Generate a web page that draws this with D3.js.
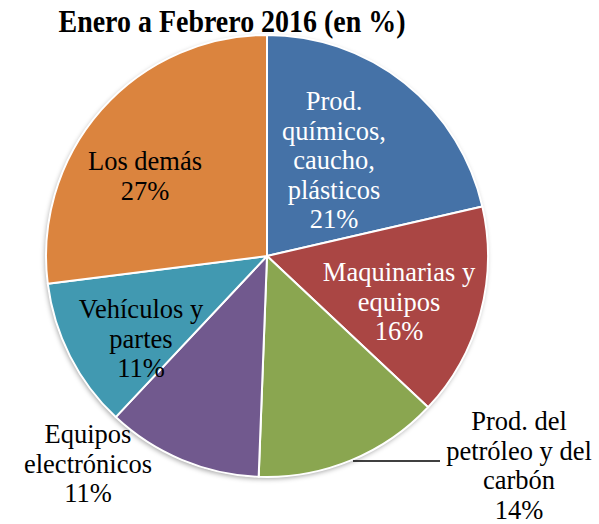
<!DOCTYPE html>
<html>
<head>
<meta charset="utf-8">
<script src="https://cdn.jsdelivr.net/npm/d3@7"></script>
<style>
  html, body { margin: 0; padding: 0; background: #fff; }
  svg { display: block; }
</style>
</head>
<body>
<svg id="chart" width="599" height="524"></svg>
<script>
// ---- data ----
const title = "Enero a Febrero 2016 (en %)";
const categories = [
  "Prod. químicos, caucho, plásticos",
  "Maquinarias y equipos",
  "Prod. del petróleo y del carbón",
  "Equipos electrónicos",
  "Vehículos y partes",
  "Los demás"
];
const values = [21.4, 15.6, 13.6, 11.4, 11.0, 27.0];
const labelLines = [
  ["Prod.", "químicos,", "caucho,", "plásticos"],
  ["Maquinarias y", "equipos"],
  ["Prod. del", "petróleo y del", "carbón"],
  ["Equipos", "electrónicos"],
  ["Vehículos y", "partes"],
  ["Los demás"]
];
const colors = ["#4572A7", "#AA4644", "#8AA650", "#71598E", "#4199B1", "#DB843E"];
const labelColors = ["#fff", "#fff", "#000", "#000", "#000", "#000"];

// ---- layout ----
const W = 599, H = 524;
const cx = 267, cy = 256, R = 221;
const fontFamily = "'Liberation Serif', 'Times New Roman', serif";
const lineH = 29.5;

// label anchor positions (center x, first baseline y)
const labelPos = [
  [334, 110],
  [399, 281],
  [519, 430],
  [88, 443],
  [141, 318],
  [145, 170]
];

const svg = d3.select("#chart");

const defs = svg.append("defs");
const f = defs.append("filter").attr("id", "shadow")
  .attr("x", "-10%").attr("y", "-10%").attr("width", "120%").attr("height", "120%");
f.append("feDropShadow").attr("dx", -1).attr("dy", 2).attr("stdDeviation", 2.5)
  .attr("flood-color", "#000").attr("flood-opacity", 0.35);

// title
svg.append("text")
  .attr("x", 232).attr("y", 32)
  .attr("text-anchor", "middle")
  .attr("font-family", fontFamily)
  .attr("font-weight", "bold")
  .attr("font-size", 31)
  .attr("textLength", 347)
  .attr("lengthAdjust", "spacingAndGlyphs")
  .text(title);

const data = categories.map((c, i) => ({ name: c, value: values[i], i }));
const pie = d3.pie().sort(null).value(d => d.value);
const arcs = pie(data);
const arc = d3.arc().innerRadius(0).outerRadius(R);

const g = svg.append("g").attr("transform", `translate(${cx},${cy})`);

// shadow base
g.append("circle").attr("r", R).attr("fill", "#fff").attr("filter", "url(#shadow)");

g.selectAll("path.slice")
  .data(arcs)
  .join("path")
  .attr("class", "slice")
  .attr("d", arc)
  .attr("fill", d => colors[d.data.i])
  .attr("stroke", "#fff")
  .attr("stroke-width", 2)
  .attr("stroke-linejoin", "round");

// leader line for petróleo label
const lineY = 461;
const lineStartX = 353, lineEndX = 440;
svg.append("line")
  .attr("x1", lineStartX).attr("y1", lineY)
  .attr("x2", lineEndX).attr("y2", lineY)
  .attr("stroke", "#000").attr("stroke-width", 1.6);

// labels
const fmt = d3.format(".0f");
arcs.forEach((a) => {
  const i = a.data.i;
  const lines = labelLines[i].concat([fmt(values[i]) + "%"]);
  const [lx, ly] = labelPos[i];
  const t = svg.append("text")
    .attr("text-anchor", "middle")
    .attr("font-family", fontFamily)
    .attr("font-size", 26.5)
    .attr("fill", labelColors[i]);
  lines.forEach((ln, j) => {
    t.append("tspan").attr("x", lx).attr("y", ly + j * lineH).text(ln);
  });
});
</script>
</body>
</html>
